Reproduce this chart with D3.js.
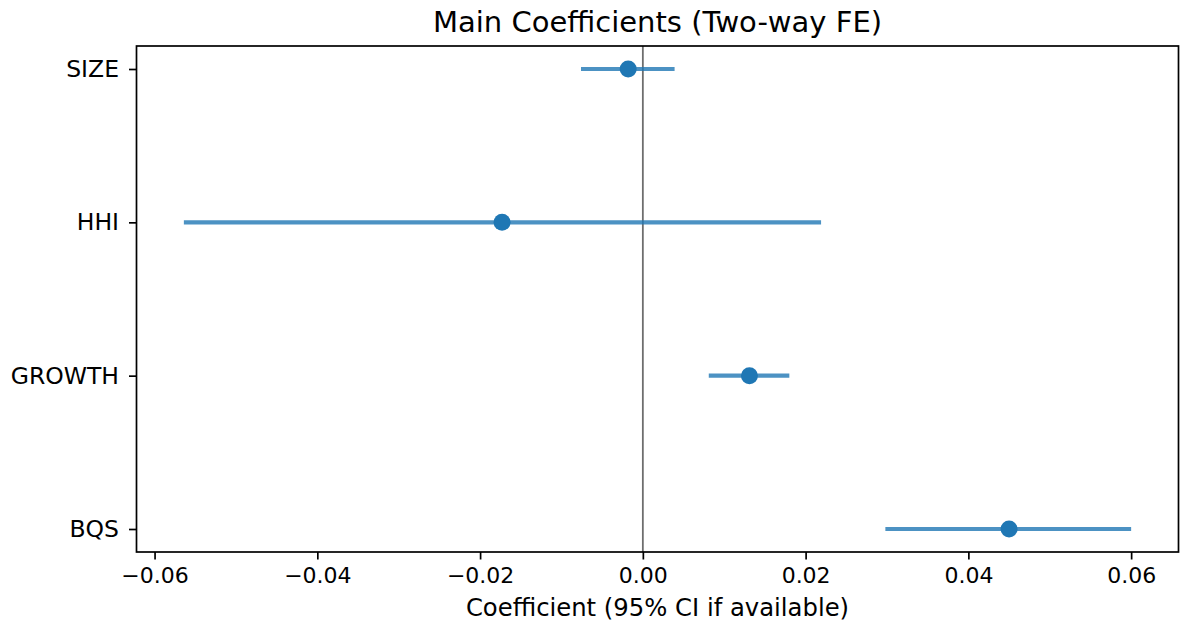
<!DOCTYPE html>
<html>
<head>
<meta charset="utf-8">
<script src="https://cdn.jsdelivr.net/npm/d3@7"></script>
<style>
  body { margin: 0; background: #fff; }
  text { font-family: "DejaVu Sans", sans-serif; fill: #000; }
</style>
</head>
<body>
<svg id="chart"></svg>
<script>
// coefficients
const terms = ['SIZE', 'HHI', 'GROWTH', 'BQS'];
const coef  = [-0.0018, -0.0173, 0.0131, 0.0450];
const ciLow = [-0.0076, -0.0564, 0.0081, 0.0298];
const ciHigh = [0.0039, 0.0219, 0.0180, 0.0600];
const xTicks = [-0.06, -0.04, -0.02, 0.00, 0.02, 0.04, 0.06];

const width = 1182, height = 626;
const margin = {top: 46, right: 3.5, bottom: 74, left: 136.5};

const svg = d3.select('#chart')
  .attr('width', width)
  .attr('height', height);

const data = terms.map((t, i) => ({term: t, c: coef[i], lo: ciLow[i], hi: ciHigh[i], i: i}));

// matplotlib style 5% padding
const lo = d3.min(ciLow), hi = d3.max(ciHigh);
const pad = (hi - lo) * 0.05;
const x = d3.scaleLinear()
  .domain([lo - pad, hi + pad])
  .range([margin.left, width - margin.right]);

const y = d3.scaleLinear()
  .domain([-0.15, terms.length - 1 + 0.15])
  .range([margin.top, height - margin.bottom]);

const plotH = height - margin.bottom - margin.top;

// zero line
svg.append('line')
  .attr('x1', x(0)).attr('x2', x(0))
  .attr('y1', margin.top).attr('y2', height - margin.bottom)
  .attr('stroke', '#555')
  .attr('stroke-opacity', 0.85)
  .attr('stroke-width', 1.8);

// intervals
svg.selectAll('line.ci')
  .data(data)
  .enter()
  .append('line')
  .attr('class', 'ci')
  .attr('x1', d => x(d.lo))
  .attr('x2', d => x(d.hi))
  .attr('y1', d => y(d.i))
  .attr('y2', d => y(d.i))
  .attr('stroke', '#1f77b4')
  .attr('stroke-opacity', 0.8)
  .attr('stroke-width', 4.2);

// points
svg.selectAll('circle')
  .data(data)
  .enter()
  .append('circle')
  .attr('cx', d => x(d.c))
  .attr('cy', d => y(d.i))
  .attr('r', 8.5)
  .style('fill', '#1f77b4');

// axes
const xAxis = d3.axisBottom(x)
  .tickValues(xTicks)
  .tickSize(7.5)
  .tickPadding(7)
  .tickFormat(d => d3.format('.2f')(d).replace('-', '\u2212'));

const gx = svg.append('g')
  .attr('transform', 'translate(0,' + (height - margin.bottom) + ')')
  .call(xAxis);

const yAxis = d3.axisLeft(y)
  .tickValues(d3.range(terms.length))
  .tickSize(7.5)
  .tickPadding(10)
  .tickFormat(i => terms[i]);

const gy = svg.append('g')
  .attr('transform', 'translate(' + margin.left + ',0)')
  .call(yAxis);

[gx, gy].forEach(g => {
  g.select('.domain').remove();
  g.selectAll('.tick line').attr('stroke', '#000').attr('stroke-width', 1.7);
  g.selectAll('.tick text').style('font-size', '22px').attr('fill', '#000');
});
gx.selectAll('.tick text').attr('dy', '0.76em');
gy.selectAll('.tick text').style('font-size', '23.5px');

// frame
svg.append('rect')
  .attr('x', margin.left)
  .attr('y', margin.top)
  .attr('width', width - margin.right - margin.left)
  .attr('height', plotH)
  .attr('fill', 'none')
  .attr('stroke', '#000')
  .attr('stroke-width', 1.7);

// title & label
svg.append('text')
  .attr('x', (margin.left + width - margin.right) / 2)
  .attr('y', 32)
  .attr('text-anchor', 'middle')
  .style('font-size', '29px')
  .text('Main Coefficients (Two-way FE)');

svg.append('text')
  .attr('x', (margin.left + width - margin.right) / 2)
  .attr('y', 616)
  .attr('text-anchor', 'middle')
  .style('font-size', '24.3px')
  .text('Coefficient (95% CI if available)');
</script>
</body>
</html>
